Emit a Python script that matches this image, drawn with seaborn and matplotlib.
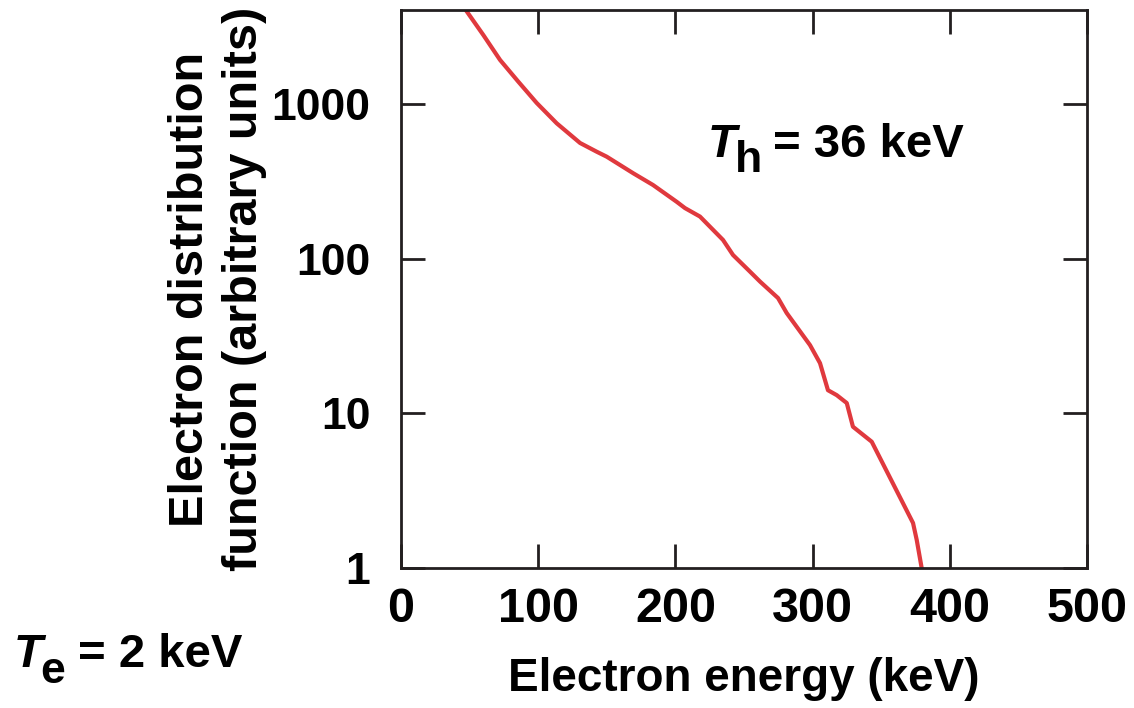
import matplotlib
matplotlib.use("Agg")
import matplotlib.pyplot as plt
import seaborn as sns
import pandas as pd

# Data
energy_kev = [47.2, 60.0, 72.2, 85.5, 98.9, 113.5, 130.5, 142.6, 149.9, 169.3,
              183.7, 200.9, 207.0, 217.9, 234.7, 242.0, 254.4, 261.7, 274.8, 281.1,
              298.1, 305.4, 311.2, 317.6, 324.9, 329.4, 343.1, 373.2, 375.9, 379.5]
distribution = [4045, 2788, 1923, 1392, 1014, 749, 559, 491, 456, 356,
                299, 233, 212, 187, 132, 105.5, 82.3, 71, 55.6, 44.5,
                27.6, 21.1, 14.1, 13.1, 11.65, 8.19, 6.55, 1.954, 1.517, 1.0]
x_ticks = [0, 100, 200, 300, 400, 500]
y_ticks = [1, 10, 100, 1000]
y_tick_labels = ["1", "10", "100", "1000"]

df = pd.DataFrame({"energy": energy_kev, "f": distribution})

sns.set_style("ticks")
plt.rcParams["font.family"] = ["Liberation Sans", "DejaVu Sans"]
plt.rcParams["text.color"] = "black"
plt.rcParams["axes.labelcolor"] = "black"
plt.rcParams["xtick.color"] = "black"
plt.rcParams["ytick.color"] = "black"

W, H = 1134, 708
spine_color = "#231f20"
fig = plt.figure(figsize=(W / 100, H / 100), dpi=100)
ax = fig.add_axes([401 / W, 1 - 568 / H, 686 / W, 558 / H])

sns.lineplot(data=df, x="energy", y="f", ax=ax, color="#e0393e", linewidth=3.0)

ax.set_yscale("log")
ax.set_xlim(0, 500)
ax.set_ylim(1, 4045)
ax.set_xticks(x_ticks)
ax.set_xticklabels([str(t) for t in x_ticks])
ax.set_yticks(y_ticks)
ax.set_yticklabels(y_tick_labels)
ax.yaxis.set_minor_locator(matplotlib.ticker.NullLocator())
ax.xaxis.set_minor_locator(matplotlib.ticker.NullLocator())

for s in ax.spines.values():
    s.set_visible(True)
    s.set_linewidth(2.0)
    s.set_color(spine_color)

ax.tick_params(axis="both", which="major", direction="in", length=17, width=2.0,
               color=spine_color, labelcolor="black", top=True, right=True)
ax.tick_params(axis="x", pad=14, labelsize=35)
ax.tick_params(axis="y", pad=22, labelsize=32)
for lab in ax.get_xticklabels() + ax.get_yticklabels():
    lab.set_fontweight("bold")

ax.set_xlabel("Electron energy (keV)", fontsize=33, fontweight="bold", va="top")
ax.set_ylabel("Electron distribution\nfunction (arbitrary units)", fontsize=35,
              fontweight="bold", linespacing=1.25)
ax.yaxis.set_label_coords(-0.196, 0.5)
ax.xaxis.set_label_coords(0.5, -0.16)


def put(px, py, s, size, style="normal"):
    fig.text(px / W, 1 - py / H, s, fontsize=size, fontweight="bold",
             fontstyle=style, ha="left", va="baseline", color="black")


# T_h = 36 keV
put(708, 157, "T", 34, "italic")
put(735, 172, "h", 32)
put(773, 157, "= 36 keV", 34)

# T_e = 2 keV
put(14, 667, "T", 34, "italic")
put(40, 683, "e", 32)
put(78, 667, "= 2 keV", 34)

fig.savefig("out.png", dpi=100)
